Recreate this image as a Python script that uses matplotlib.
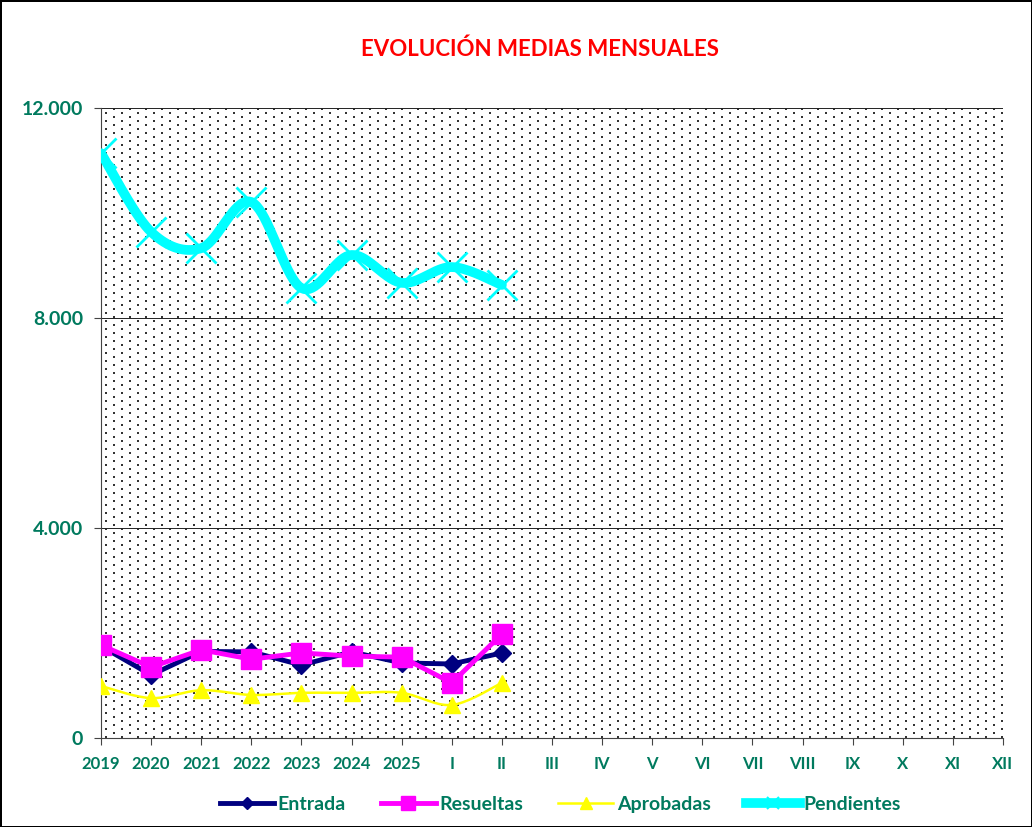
import matplotlib.pyplot as plt
import numpy as np
from matplotlib.ticker import FuncFormatter

categories = ['2019', '2020', '2021', '2022', '2023', '2024', '2025',
              'I', 'II', 'III', 'IV', 'V', 'VI', 'VII', 'VIII', 'IX', 'X', 'XI', 'XII']
entrada = [1750, 1200, 1650, 1640, 1390, 1640, 1430, 1410, 1620]
resueltas = [1770, 1350, 1680, 1500, 1620, 1560, 1540, 1050, 1980]
aprobadas = [990, 760, 910, 820, 860, 860, 860, 630, 1050]
pendientes = [11140, 9640, 9330, 10210, 8570, 9200, 8670, 8970, 8630]

TEAL = '#007A5E'


def smooth(y, steps=20):
    # Catmull-Rom style bezier, like Excel's smoothed line
    x = np.arange(len(y), dtype=float)
    y = np.asarray(y, dtype=float)
    pts = np.column_stack([x, y])
    out = [pts[0]]
    n = len(pts)
    for i in range(n - 1):
        p0 = pts[max(i - 1, 0)]
        p1 = pts[i]
        p2 = pts[i + 1]
        p3 = pts[min(i + 2, n - 1)]
        c1 = p1 + (p2 - p0) / 6
        c2 = p2 - (p3 - p1) / 6
        t = np.linspace(0, 1, steps)[1:, None]
        seg = ((1 - t) ** 3) * p1 + 3 * ((1 - t) ** 2) * t * c1 + 3 * (1 - t) * t ** 2 * c2 + t ** 3 * p2
        out.extend(seg)
    out = np.array(out)
    return out[:, 0], out[:, 1]


plt.rcParams['font.family'] = ['Lato', 'DejaVu Sans']

W, H = 1032, 827
fig = plt.figure(figsize=(W / 100, H / 100), dpi=100)
fig.patch.set_edgecolor('black')
fig.patch.set_linewidth(2)

# plot area in pixels
px0, px1, py0, py1 = 101, 1003, 108, 738
ax = fig.add_axes([px0 / W, 1 - py1 / H, (px1 - px0) / W, (py1 - py0) / H])
ax.patch.set_visible(False)

# dotted background pattern of the plot area
pw, ph = px1 - px0, py1 - py0
pat = np.ones((ph, pw, 3))
for r in range(0, ph, 4):
    off = 4 if (r // 4) % 2 else 12
    for c in range(off, pw, 16):
        pat[r:r + 2, c:c + 2] = 0.2
fig.figimage(pat, xo=px0, yo=H - py1, zorder=-1)

xi = np.arange(len(entrada))

ax.plot(xi, entrada, color='#000080', lw=3.5, marker='D', ms=9, label='Entrada', zorder=3)
ax.plot(xi, resueltas, color='#FF00FF', lw=3.5, marker='s', ms=15, label='Resueltas', zorder=4)
sx, sy = smooth(aprobadas)
ax.plot(sx, sy, color='#FFFF00', lw=1.8, zorder=3)
ax.plot(xi, aprobadas, color='#FFFF00', lw=0, marker='^', ms=11, zorder=3)
ax.plot([], [], color='#FFFF00', lw=1.8, marker='^', ms=9, label='Aprobadas')
sx, sy = smooth(pendientes)
ax.plot(sx, sy, color='#00FFFF', lw=7, zorder=3, solid_capstyle='round')
ax.plot(xi, pendientes, color='#00FFFF', lw=0, marker='x', ms=22, mew=2, zorder=3)
ax.plot([], [], color='#00FFFF', lw=7, marker='x', ms=8, mew=1.5, label='Pendientes')

ax.set_xlim(0, len(categories) - 1)
ax.set_ylim(0, 12000)
ax.set_xticks(range(len(categories)))
ax.set_xticklabels(categories)
ax.set_yticks([0, 4000, 8000, 12000])
ax.yaxis.set_major_formatter(FuncFormatter(lambda v, p: f'{int(v):,}'.replace(',', '.')))
ax.grid(axis='y', color='#222222', lw=0.7)
ax.set_axisbelow(True)

for s in ['top', 'right']:
    ax.spines[s].set_visible(False)
ax.spines['left'].set_color('#444444')
ax.spines['bottom'].set_color('#444444')
ax.tick_params(axis='both', colors='#444444', labelcolor=TEAL, length=5, direction='out')
ax.tick_params(axis='x', pad=8)
ax.tick_params(axis='y', pad=8)
for lab in ax.get_xticklabels():
    lab.set_fontweight('bold')
    lab.set_fontsize(12)
for lab in ax.get_yticklabels():
    lab.set_fontweight('bold')
    lab.set_fontsize(14)

fig.text(0.523, 0.94, 'EVOLUCIÓN MEDIAS MENSUALES', color='#FF0000', fontsize=16,
         fontweight='bold', ha='center', va='center')

leg = fig.legend(loc='center', bbox_to_anchor=(0.543, 0.027), ncol=4, frameon=False,
                 handlelength=2.8, handletextpad=0.2, columnspacing=1.8,
                 prop={'weight': 'bold', 'size': 14})
for t in leg.get_texts():
    t.set_color(TEAL)
leg_ms = [6, 10, 9, 8]
for h, m in zip(leg.legend_handles, leg_ms):
    h.set_markersize(m)

fig.savefig('out.png', dpi=100, edgecolor=fig.get_edgecolor())
